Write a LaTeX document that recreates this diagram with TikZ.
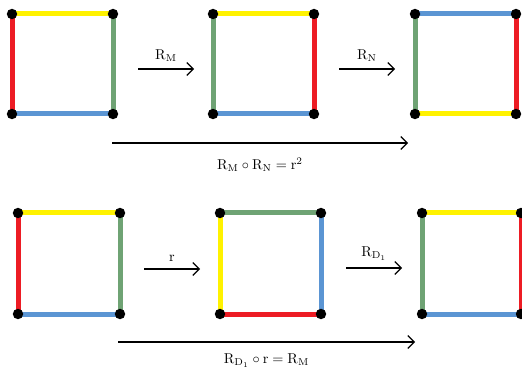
\documentclass[tikz,border=0pt]{standalone}
\usetikzlibrary{arrows.meta}
\definecolor{cyel}{HTML}{FFF200}
\definecolor{cred}{HTML}{ED1C24}
\definecolor{cgrn}{HTML}{6FA374}
\definecolor{cblu}{HTML}{5B95D3}
\tikzset{
  edge/.style={line width=3.5pt},
  dot/.style={circle,fill=black,inner sep=0pt,minimum size=7.3pt},
  arr/.style={line width=0.75pt,-{Straight Barb[length=4.5pt,width=9pt,line width=0.75pt]}},
  lbl/.style={inner sep=2pt,font=\normalsize}
}
% #1 name, #2 left x, #3 top y, #4 right x, #5 bottom y, colours top right bottom left
\newcommand{\mysq}[9]{%
  \coordinate (#1tl) at (#2,#3);
  \coordinate (#1tr) at (#4,#3);
  \coordinate (#1br) at (#4,#5);
  \coordinate (#1bl) at (#2,#5);
  \draw[edge,#6] (#1tl) -- (#1tr);
  \draw[edge,#7] (#1tr) -- (#1br);
  \draw[edge,#8] (#1br) -- (#1bl);
  \draw[edge,#9] (#1bl) -- (#1tl);
  \node[dot] at (#1tl) {};
  \node[dot] at (#1tr) {};
  \node[dot] at (#1br) {};
  \node[dot] at (#1bl) {};
}
\begin{document}
\begin{tikzpicture}[x=0.7pt,y=-0.7pt]
\useasboundingbox (0,0) rectangle (522,369);
\clip (0,0) rectangle (522,369);
% top row
\mysq{a}{12}{14}{113}{114}{cyel}{cgrn}{cblu}{cred}
\mysq{b}{213}{14}{314}{114}{cyel}{cred}{cblu}{cgrn}
\mysq{c}{415}{14}{516}{114}{cblu}{cred}{cyel}{cgrn}
% bottom row
\mysq{d}{18}{213}{120}{314}{cyel}{cgrn}{cblu}{cred}
\mysq{e}{220}{213}{321}{314}{cgrn}{cblu}{cred}{cyel}
\mysq{f}{422}{213}{521}{314}{cyel}{cred}{cblu}{cgrn}
% arrows
\coordinate (m1) at (138,69); \coordinate (m2) at (194,69);
\draw[arr] (m1) -- node[lbl,above=3pt] {$\mathrm{R}_{\mathrm{M}}$} (m2);
\coordinate (n1) at (339,69); \coordinate (n2) at (395,69);
\draw[arr] (n1) -- node[lbl,above=3pt] {$\mathrm{R}_{\mathrm{N}}$} (n2);
\coordinate (p1) at (112,143); \coordinate (p2) at (408,143);
\draw[arr] (p1) -- node[lbl,below=8pt] {$\mathrm{R}_{\mathrm{M}}\circ\mathrm{R}_{\mathrm{N}}=\mathrm{r}^2$} (p2);
\coordinate (r1) at (144,269); \coordinate (r2) at (200,269);
\draw[arr] (r1) -- node[lbl,above=3pt] {$\mathrm{r}$} (r2);
\coordinate (s1) at (346,268); \coordinate (s2) at (402,268);
\draw[arr] (s1) -- node[lbl,above=3pt] {$\mathrm{R}_{\mathrm{D}_1}$} (s2);
\coordinate (q1) at (118,342); \coordinate (q2) at (415,342);
\draw[arr] (q1) -- node[lbl,below=6pt] {$\mathrm{R}_{\mathrm{D}_1}\circ\mathrm{r}=\mathrm{R}_{\mathrm{M}}$} (q2);
\end{tikzpicture}
\end{document}
